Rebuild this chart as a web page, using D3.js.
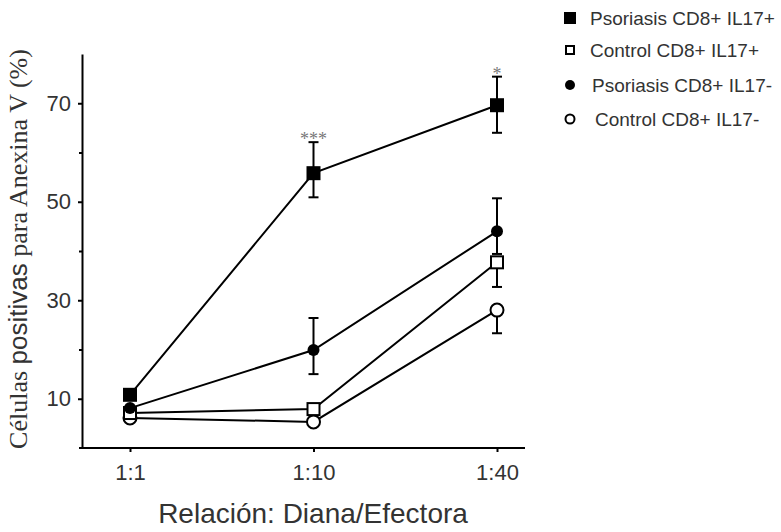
<!DOCTYPE html>
<html><head><meta charset="utf-8">
<script src="https://cdn.jsdelivr.net/npm/d3@7"></script>
<style>body{margin:0;background:#fff}</style>
</head><body>
<svg id="c" width="781" height="532"></svg>
<script>
const categories = ["1:1", "1:10", "1:40"];
const seriesNames = ["Psoriasis CD8+ IL17+", "Control CD8+ IL17+", "Psoriasis CD8+ IL17-", "Control CD8+ IL17-"];
const psoIL17pos = [10.8, 55.8, 69.6];
const ctlIL17pos = [7.1, 7.9, 37.7];
const psoIL17neg = [8.1, 19.9, 44.0];
const ctlIL17neg = [6.1, 5.3, 28.0];
const psoIL17posErrUp = [0, 6.3, 5.8];
const psoIL17posErrDown = [0, 4.9, 5.6];
const ctlIL17posErrUp = [0, 0, 0];
const ctlIL17posErrDown = [0, 0, 5.0];
const psoIL17negErrUp = [0, 6.5, 6.7];
const psoIL17negErrDown = [0, 4.9, 4.6];
const ctlIL17negErrUp = [0, 0, 0];
const ctlIL17negErrDown = [0, 0, 4.7];
const yTicks = [10, 30, 50, 70];
const yMinorTicks = [20, 40, 60];
const significance = [{cat: "1:10", label: "***"}, {cat: "1:40", label: "*"}];

const series = [
  {name: seriesNames[0], values: psoIL17pos, up: psoIL17posErrUp, down: psoIL17posErrDown, shape: "square", filled: true},
  {name: seriesNames[1], values: ctlIL17pos, up: ctlIL17posErrUp, down: ctlIL17posErrDown, shape: "square", filled: false},
  {name: seriesNames[2], values: psoIL17neg, up: psoIL17negErrUp, down: psoIL17negErrDown, shape: "circle", filled: true},
  {name: seriesNames[3], values: ctlIL17neg, up: ctlIL17negErrUp, down: ctlIL17negErrDown, shape: "circle", filled: false}
];

const svg = d3.select("#c");
const x = d3.scalePoint().domain(categories).range([130, 497]);
const y = d3.scaleLinear().domain([0, 80]).range([448, 54]);
const textCol = "#333";
const sans = "Liberation Sans, Arial, sans-serif";
const serif = "Liberation Serif, Times New Roman, serif";

// Axes
const yAxis = svg.append("g").attr("transform", "translate(82,0)")
  .call(d3.axisLeft(y).tickValues(yTicks).tickSize(4).tickSizeOuter(0).tickFormat(d3.format("d")));
yAxis.select(".domain").attr("stroke", "#000").attr("stroke-width", 2);
yAxis.selectAll(".tick line").attr("stroke", "#000").attr("stroke-width", 2);
yAxis.selectAll(".tick text").attr("font-family", sans)
  .attr("font-size", 22).attr("fill", textCol).attr("x", -11);
svg.append("g").attr("transform", "translate(82,0)")
  .call(d3.axisLeft(y).tickValues(yMinorTicks).tickSize(3).tickFormat(""))
  .call(g => g.select(".domain").remove())
  .selectAll(".tick line").attr("stroke", "#000").attr("stroke-width", 2);
svg.append("line").attr("x1", 79).attr("x2", 82).attr("y1", y(0)).attr("y2", y(0)).attr("stroke", "#000").attr("stroke-width", 2);

const xAxis = svg.append("g").attr("transform", `translate(0,${y(0)})`)
  .call(d3.axisBottom(x).tickSize(4).tickSizeOuter(0));
xAxis.select(".domain").attr("d", `M82,0H525`).attr("stroke", "#000").attr("stroke-width", 2);
xAxis.selectAll(".tick line").attr("stroke", "#000").attr("stroke-width", 2);
xAxis.selectAll(".tick text").attr("font-family", sans)
  .attr("font-size", 22).attr("fill", textCol).attr("y", 16);

// Axis titles
svg.append("text").attr("x", 313).attr("y", 523).attr("text-anchor", "middle")
  .attr("font-family", sans).attr("font-size", 28).attr("fill", textCol)
  .text("Relación: Diana/Efectora");

const yt = svg.append("text").attr("transform", "translate(27,249) rotate(-90)").attr("text-anchor", "middle")
  .attr("font-size", 26).attr("fill", textCol);
yt.append("tspan").attr("font-family", serif).text("Células ");
yt.append("tspan").attr("font-family", sans).text("positivas");
yt.append("tspan").attr("font-family", serif).text(" para  Anexina V (%)");

// Lines
const line = d3.line().x((d, i) => x(categories[i])).y(d => y(d));
series.forEach(s => {
  svg.append("path").attr("d", line(s.values)).attr("fill", "none").attr("stroke", "#000").attr("stroke-width", 2);
});

// Error bars
series.forEach(s => {
  s.values.forEach((v, i) => {
    const cx = x(categories[i]);
    [[s.up[i], 1], [s.down[i], -1]].forEach(([e, dir]) => {
      if (e <= 0) return;
      const ye = y(v + dir * e);
      svg.append("line").attr("x1", cx).attr("x2", cx).attr("y1", y(v)).attr("y2", ye).attr("stroke", "#000").attr("stroke-width", 2);
      svg.append("line").attr("x1", cx - 5).attr("x2", cx + 5).attr("y1", ye).attr("y2", ye).attr("stroke", "#000").attr("stroke-width", 2);
    });
  });
});

// Markers
function marker(g, s, cx, cy, size) {
  if (s.shape === "square") {
    const r = s.filled ? size / 2 + 1 : size / 2;
    g.append("rect").attr("x", cx - r).attr("y", cy - r).attr("width", 2 * r).attr("height", 2 * r)
      .attr("fill", s.filled ? "#000" : "#fff").attr("stroke", "#000").attr("stroke-width", s.filled ? 0 : 2);
  } else {
    g.append("circle").attr("cx", cx).attr("cy", cy).attr("r", s.filled ? size / 2 : size / 2 + 0.5)
      .attr("fill", s.filled ? "#000" : "#fff").attr("stroke", "#000").attr("stroke-width", s.filled ? 0 : 2);
  }
}
[3, 1, 2, 0].forEach(k => {
  const s = series[k];
  s.values.forEach((v, i) => marker(svg, s, x(categories[i]), y(v), 12));
});

// Significance
significance.forEach(sg => {
  const i = categories.indexOf(sg.cat);
  const top = psoIL17pos[i] + psoIL17posErrUp[i];
  svg.append("text").attr("x", x(sg.cat)).attr("y", y(top) + 3).attr("text-anchor", "middle")
    .attr("font-family", serif).attr("font-size", 18).attr("fill", "#777")
    .text(sg.label);
});

// Legend
const legY = [18, 50, 85, 119];
const legTx = [590, 590, 592, 595];
series.forEach((s, k) => {
  marker(svg, {shape: s.shape, filled: s.filled}, 570, legY[k], s.filled ? 10 : 8);
  svg.append("text").attr("x", legTx[k]).attr("y", legY[k]).attr("dy", "0.35em")
    .attr("font-family", sans).attr("font-size", 19).attr("fill", textCol)
    .text(s.name);
});
</script>
</body></html>
